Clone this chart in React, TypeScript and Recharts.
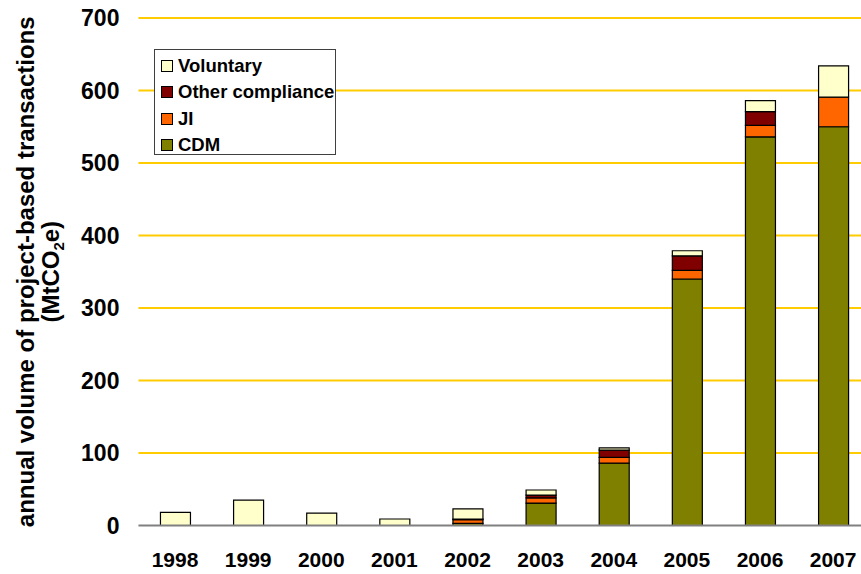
import { BarChart, Bar, XAxis, YAxis, CartesianGrid, Legend, Label } from 'recharts';

const years = ['1998', '1999', '2000', '2001', '2002', '2003', '2004', '2005', '2006', '2007'];
const cdm = [0, 0, 0, 0, 3, 31, 86, 340, 536, 550];
const ji = [0, 0, 0, 0, 5, 7, 8, 12, 16, 41];
const otherCompliance = [0, 0, 0, 0, 1, 4, 10, 20, 19, 0];
const voluntary = [18, 35, 17, 9, 14, 7, 3, 7, 15, 43];
const yTicks = [0, 100, 200, 300, 400, 500, 600, 700];

const colors = {
  cdm: '#808000',
  ji: '#FF6600',
  other: '#800000',
  voluntary: '#FFFFCC',
  grid: '#FFCC00',
  axis: '#808080',
};

const font = '"Liberation Sans", Arial, sans-serif';

const chartData = years.map((year, i) => ({
  year,
  cdm: cdm[i],
  ji: ji[i],
  other: otherCompliance[i],
  voluntary: voluntary[i],
}));

// legend lists top to bottom, reverse of the stack
const legendItems = [
  { name: 'Voluntary', color: colors.voluntary },
  { name: 'Other compliance', color: colors.other },
  { name: 'JI', color: colors.ji },
  { name: 'CDM', color: colors.cdm },
];

function LegendBox() {
  return (
    <div
      style={{
        width: 182,
        height: 106,
        boxSizing: 'border-box',
        border: '1px solid #404040',
        background: '#fff',
        padding: '3px 0 0 6px',
        fontFamily: font,
        fontWeight: 'bold',
        fontSize: 18.5,
        color: '#000',
        textAlign: 'left',
      }}
    >
      {legendItems.map((item) => (
        <div key={item.name} style={{ display: 'flex', alignItems: 'center', height: 26.3 }}>
          <span
            style={{
              display: 'inline-block',
              width: 10,
              height: 10,
              border: '1px solid #000',
              background: item.color,
              marginRight: 5,
            }}
          />
          <span style={{ lineHeight: '20px' }}>{item.name}</span>
        </div>
      ))}
    </div>
  );
}

function YLabel(props: any) {
  const { viewBox } = props;
  const cy = viewBox.y + viewBox.height / 2;
  return (
    <g>
      <text
        x={34}
        y={cy}
        transform={`rotate(-90, 34, ${cy})`}
        textAnchor="middle"
        fontFamily={font}
        fontWeight="bold"
        fontSize={24}
        fill="#000"
      >
        annual volume of project-based transactions
      </text>
      <text
        x={59}
        y={cy}
        transform={`rotate(-90, 59, ${cy})`}
        textAnchor="middle"
        fontFamily={font}
        fontWeight="bold"
        fontSize={24}
        fill="#000"
      >
        (MtCO
        <tspan fontSize={15} dy={5}>2</tspan>
        <tspan dy={-5}>e)</tspan>
      </text>
    </g>
  );
}

export default function App() {
  return (
    <div style={{ position: 'absolute', left: 0, top: 0, width: 861, height: 574, overflow: 'hidden', background: '#fff' }}>
      <BarChart
        width={880}
        height={574}
        data={chartData}
        margin={{ top: 18, right: 10.3, left: 0, bottom: 0 }}
        barSize={30}
      >
        <CartesianGrid
          horizontal
          vertical={false}
          horizontalValues={yTicks.filter((t) => t > 0)}
          stroke={colors.grid}
          strokeWidth={2}
        />
        <XAxis
          dataKey="year"
          height={48.5}
          axisLine={{ stroke: colors.axis, strokeWidth: 2 }}
          tickLine={false}
          tickSize={0}
          tickMargin={27}
          tick={{ fill: '#000', fontSize: 21, fontWeight: 'bold', fontFamily: font }}
          interval={0}
        />
        <YAxis
          width={138.46}
          domain={[0, 700]}
          ticks={yTicks}
          axisLine={false}
          tickLine={false}
          tickSize={0}
          tickMargin={19}
          tick={{ fill: '#000', fontSize: 23, fontWeight: 'bold', fontFamily: font }}
        >
          <Label content={YLabel} />
        </YAxis>
        <Legend
          layout="horizontal"
          verticalAlign="middle"
          align="center"
          content={() => <LegendBox />}
          wrapperStyle={{ position: 'absolute', left: 154, top: 49, width: 'auto', height: 'auto' }}
        />
        <Bar dataKey="cdm" name="CDM" stackId="a" fill={colors.cdm} stroke="#000" strokeWidth={1.2} isAnimationActive={false} />
        <Bar dataKey="ji" name="JI" stackId="a" fill={colors.ji} stroke="#000" strokeWidth={1.2} isAnimationActive={false} />
        <Bar dataKey="other" name="Other compliance" stackId="a" fill={colors.other} stroke="#000" strokeWidth={1.2} isAnimationActive={false} />
        <Bar dataKey="voluntary" name="Voluntary" stackId="a" fill={colors.voluntary} stroke="#000" strokeWidth={1.2} isAnimationActive={false} />
      </BarChart>
    </div>
  );
}
